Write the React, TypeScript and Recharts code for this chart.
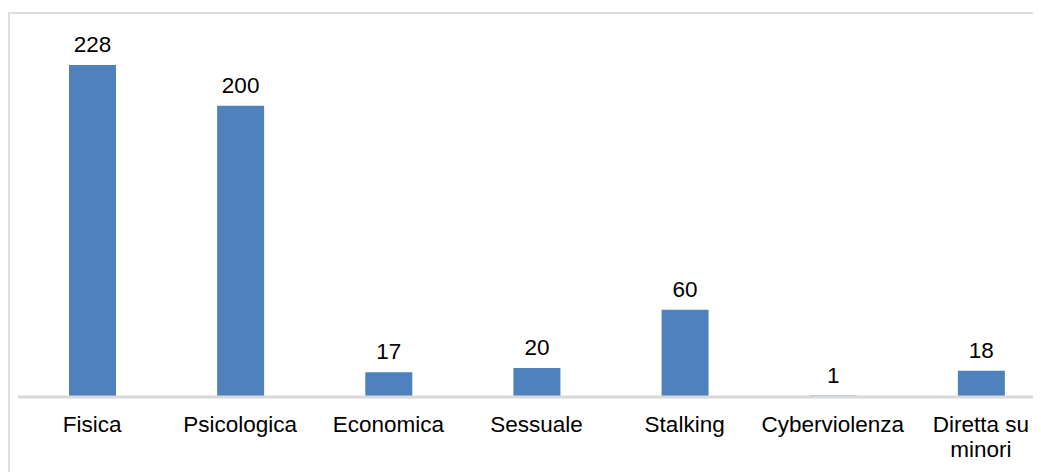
import React from "react";
import { BarChart, Bar, XAxis, YAxis, LabelList, ReferenceLine } from "recharts";

const categories = ["Fisica", "Psicologica", "Economica", "Sessuale", "Stalking", "Cyberviolenza", "Diretta su minori"];
const values = [228, 200, 17, 20, 60, 1, 18];

const data = categories.map((name, i) => ({ name, value: values[i] }));

const FONT = "'Liberation Sans', Arial, sans-serif";
const FS = 22.5;

function wrap(label: string, maxChars: number): string[] {
  const words = label.split(" ");
  const lines: string[] = [];
  let cur = "";
  for (const w of words) {
    const next = cur ? cur + " " + w : w;
    if (next.length > maxChars && cur) {
      lines.push(cur);
      cur = w;
    } else {
      cur = next;
    }
  }
  if (cur) lines.push(cur);
  return lines;
}

const Tick = (props: any) => {
  const { x, y, payload } = props;
  const lines = wrap(String(payload.value), 13);
  return (
    <text x={x} y={y + 35} textAnchor="middle" fontSize={FS} fontFamily={FONT} fill="#000">
      {lines.map((l, i) => (
        <tspan key={i} x={x} dy={i === 0 ? 0 : 25}>
          {l}
        </tspan>
      ))}
    </text>
  );
};

export default function App() {
  return (
    <div style={{ width: 1033, height: 464, overflow: "hidden", position: "relative", background: "#fff" }}>
      <div
        style={{
          position: "absolute",
          left: 0,
          top: 4,
          width: 1100,
          height: 500,
          border: "2px solid #dedede",
          boxSizing: "border-box",
        }}
      />
      <div style={{ position: "absolute", left: 0, top: 0 }}>
        <BarChart
          width={1100}
          height={464}
          data={data}
          margin={{ top: 25, right: 53, left: 10, bottom: 0 }}
          barSize={47}
        >
          <YAxis hide domain={[0, 250]} />
          <XAxis
            dataKey="name"
            height={75}
            tickLine={false}
            tickSize={0}
            tickMargin={0}
            axisLine={{ stroke: "#d9d9d9", strokeWidth: 2 }}
            tick={<Tick />}
            interval={0}
          />
          <Bar dataKey="value" fill="#4F81BD" isAnimationActive={false}>
            <LabelList
              dataKey="value"
              position="top"
              offset={13}
              style={{ fontSize: FS, fontFamily: FONT, fill: "#000" }}
            />
          </Bar>
          <ReferenceLine y={0} stroke="#d9d9d9" strokeWidth={3} />
        </BarChart>
      </div>
    </div>
  );
}
